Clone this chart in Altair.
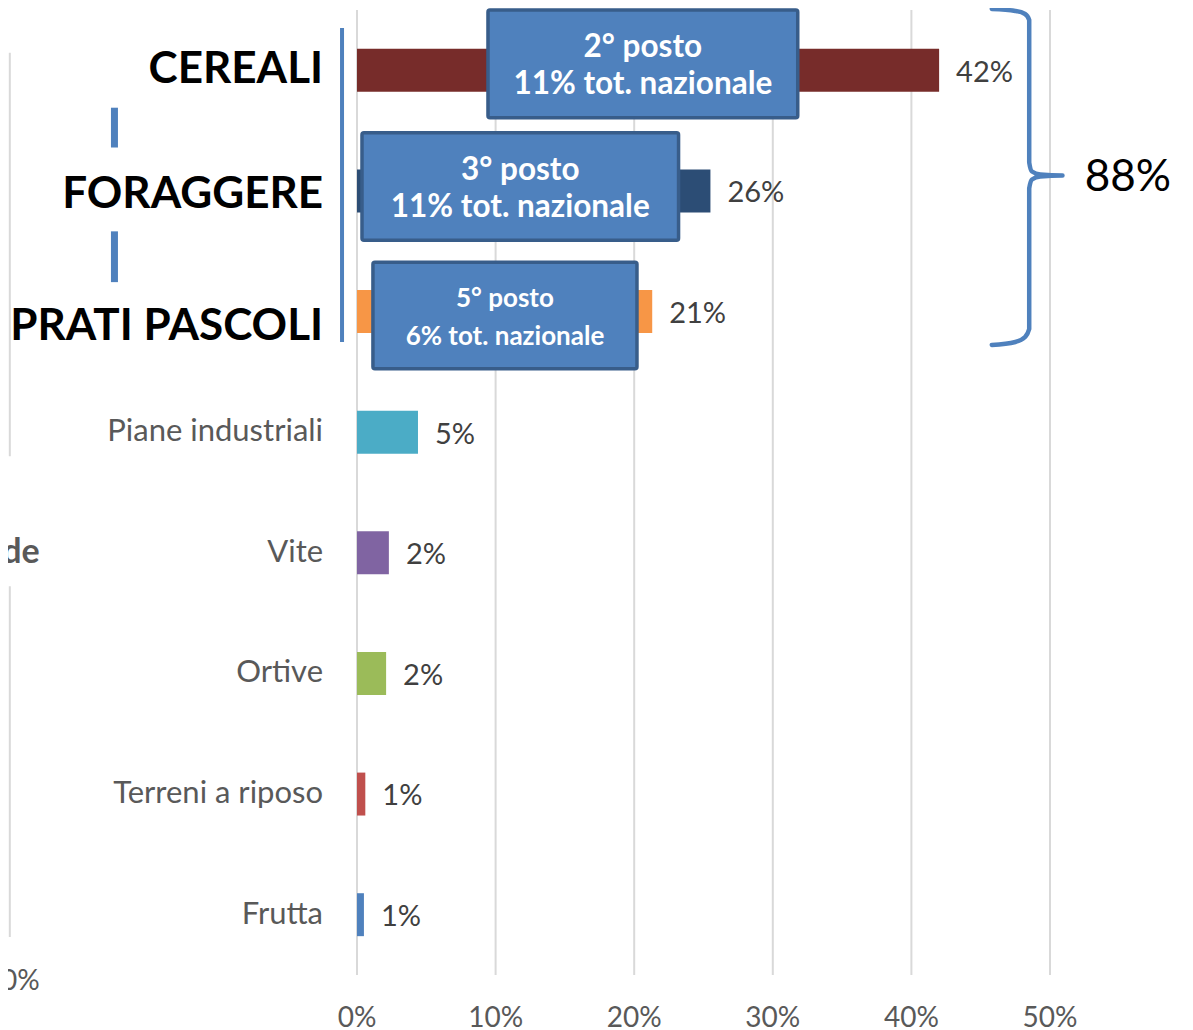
import altair as alt
import pandas as pd

# ---------------- data ----------------
categories = ["CEREALI", "FORAGGERE", "PRATI PASCOLI", "Piane industriali",
              "Vite", "Ortive", "Terreni a riposo", "Frutta"]
values = [42.0, 25.5, 21.3, 4.4, 2.3, 2.1, 0.6, 0.5]
value_labels = ["42%", "26%", "21%", "5%", "2%", "2%", "1%", "1%"]
colors = ["#772C2A", "#2C4D75", "#F79646", "#4BACC6",
          "#8064A2", "#9BBB59", "#C0504D", "#4F81BD"]
highlight = [1, 1, 1, 0, 0, 0, 0, 0]
x_ticks = [0, 10, 20, 30, 40, 50]
x_tick_labels = ["0%", "10%", "20%", "30%", "40%", "50%"]

# annotation boxes (data units: x in %, y in category slots)
box_x1 = [9.45, 0.36, 1.15]
box_x2 = [31.8, 23.2, 20.2]
box_y1 = [0.0, 1.017, 2.091]
box_y2 = [0.893, 1.909, 2.975]
box_line1 = ["2° posto", "3° posto", "5° posto"]
box_line2 = ["11% tot. nazionale", "11% tot. nazionale", "6% tot. nazionale"]
box_small = [0, 0, 1]

# curly brace grouping the first three categories
brace_x = [45.8, 47.5, 48.2, 48.5, 48.5, 48.7, 49.3, 50.9, 49.3, 48.7, 48.5, 48.5, 48.2, 47.5, 45.8]
brace_y = [-0.008, 0.008, 0.033, 0.083, 1.264, 1.339, 1.364, 1.372, 1.380, 1.405, 1.479, 2.645, 2.711, 2.752, 2.777]
brace_label = ["88%"]
brace_label_x = [52.5]
brace_label_y = [1.39]

# blue decorative strokes near labels
deco_x = [-1.08, -17.5, -17.5]
deco_y1 = [0.149, 0.81, 1.835]
deco_y2 = [2.752, 1.14, 2.256]
deco_w = [4, 7, 7]

# remnants of neighbouring chart on the far left
left_line_x = [-25.05, -25.05]
left_line_y1 = [0.355, 4.777]
left_line_y2 = [3.70, 7.686]
left_text = ["de", "0%"]
left_text_x = [-22.9, -22.9]
left_text_y = [4.504, 8.06]
left_text_bold = [1, 0]

# ---------------- frames ----------------
idx = list(range(len(categories)))
bars = pd.DataFrame({"cat": categories, "value": values, "label": value_labels,
                     "idx": idx, "hl": highlight})
ticks = pd.DataFrame({"x": x_ticks, "t": x_tick_labels})
boxes = pd.DataFrame({"x1": box_x1, "x2": box_x2, "y1": box_y1, "y2": box_y2,
                      "l1": box_line1, "l2": box_line2, "small": box_small})
brace = pd.DataFrame({"x": brace_x, "y": brace_y, "o": list(range(len(brace_x)))})
brace_txt = pd.DataFrame({"t": brace_label, "x": brace_label_x, "y": brace_label_y})
deco = pd.DataFrame({"x": deco_x, "y1": deco_y1, "y2": deco_y2, "w": deco_w})
left_lines = pd.DataFrame({"x": left_line_x, "y1": left_line_y1, "y2": left_line_y2})
left_txt = pd.DataFrame({"t": left_text, "x": left_text_x, "y": left_text_y,
                         "b": left_text_bold})

xs = alt.Scale(domain=[0, 50], nice=False, zero=False)
ys = alt.Scale(domain=[0, 8], reverse=True, nice=False, zero=False)


def X(f):
    return alt.X(f, scale=xs, axis=None)


def Y(f):
    return alt.Y(f, scale=ys, axis=None)


# gridlines
grid = alt.Chart(ticks).transform_calculate(ya="0", yb="8").mark_rule(
    color="#D9D9D9", strokeWidth=2
).encode(x=X("x:Q"), y=Y("ya:Q"), y2="yb:Q")

# x tick labels
tick_text = alt.Chart(ticks).transform_calculate(yl="8.25").mark_text(
    align="center", baseline="top", font="Lato", fontSize=28, color="#595959"
).encode(x=X("x:Q"), y=Y("yl:Q"), text="t:N")


# category labels
def cat_labels(hl):
    return alt.Chart(bars).transform_filter(f"datum.hl == {hl}").transform_calculate(
        xl="-2.45",
        yc="datum.idx + 0.5 + (datum.idx == 2 ? 0.13 : (datum.idx == 1 ? 0.03 : 0))"
    ).mark_text(
        align="right", baseline="middle", font="Lato",
        fontSize=44 if hl else 31, fontWeight="bold" if hl else "normal",
        color="#000000" if hl else "#595959"
    ).encode(x=X("xl:Q"), y=Y("yc:Q"), text="cat:N")


bar_layer = alt.Chart(bars).transform_calculate(
    x0="0", yb1="datum.idx + 0.5 - 0.178", yb2="datum.idx + 0.5 + 0.178"
).mark_rect().encode(
    x=X("x0:Q"), x2="value:Q",
    y=Y("yb1:Q"), y2="yb2:Q",
    color=alt.Color("cat:N", scale=alt.Scale(domain=categories, range=colors), legend=None),
)

value_text = alt.Chart(bars).transform_calculate(
    yc="datum.idx + 0.52"
).mark_text(align="left", baseline="middle", dx=17, font="Lato",
            fontSize=29, color="#404040").encode(
    x=X("value:Q"), y=Y("yc:Q"), text="label:N",
)

box_layer = alt.Chart(boxes).mark_rect(
    fill="#4F81BD", stroke="#385D8A", strokeWidth=3.5, cornerRadius=2
).encode(x=X("x1:Q"), x2="x2:Q", y=Y("y1:Q"), y2="y2:Q")


def box_text(field, offset, small):
    return alt.Chart(boxes).transform_filter(
        f"datum.small == {small}"
    ).transform_calculate(
        xc="(datum.x1 + datum.x2) / 2", yc=f"(datum.y1 + datum.y2) / 2 + {offset}"
    ).mark_text(align="center", baseline="middle", fontWeight="bold",
                font="Lato", fontSize=26 if small else 31.5, color="white").encode(
        x=X("xc:Q"), y=Y("yc:Q"), text=f"{field}:N",
    )


box_texts = [box_text("l1", -0.13, 0), box_text("l2", 0.175, 0),
             box_text("l1", -0.14, 1), box_text("l2", 0.18, 1)]

brace_layer = alt.Chart(brace).mark_line(
    color="#4F81BD", strokeWidth=4.5, strokeCap="round", strokeJoin="round",
    interpolate="monotone"
).encode(x=X("x:Q"), y=Y("y:Q"), order="o:Q")

brace_text = alt.Chart(brace_txt).mark_text(
    align="left", baseline="middle", font="Lato", fontSize=44, color="#000000"
).encode(x=X("x:Q"), y=Y("y:Q"), text="t:N")

deco_layer = alt.Chart(deco).mark_rule(color="#4F81BD").encode(
    x=X("x:Q"), y=Y("y1:Q"), y2="y2:Q",
    strokeWidth=alt.StrokeWidth("w:Q", scale=None, legend=None),
)

left_line_layer = alt.Chart(left_lines).mark_rule(color="#D9D9D9", strokeWidth=2).encode(
    x=X("x:Q"), y=Y("y1:Q"), y2="y2:Q",
)


def left_text_layer(bold):
    return alt.Chart(left_txt).transform_filter(f"datum.b == {bold}").mark_text(
        align="right", baseline="middle", font="Lato", color="#595959",
        fontSize=34 if bold else 28, fontWeight="bold" if bold else "normal"
    ).encode(x=X("x:Q"), y=Y("y:Q"), text="t:N")


chart = alt.layer(
    grid, tick_text, cat_labels(1), cat_labels(0),
    bar_layer, value_text, box_layer, *box_texts,
    brace_layer, brace_text, deco_layer, left_line_layer,
    left_text_layer(1), left_text_layer(0)
).properties(
    width=693, height=965,
    autosize=alt.AutoSizeParams(type="none"),
    padding={"left": 349, "top": 2, "right": 135, "bottom": 58},
    background="white",
).configure_view(strokeWidth=0)

chart.save("out.html", embed_options={"renderer": "svg", "actions": False})
